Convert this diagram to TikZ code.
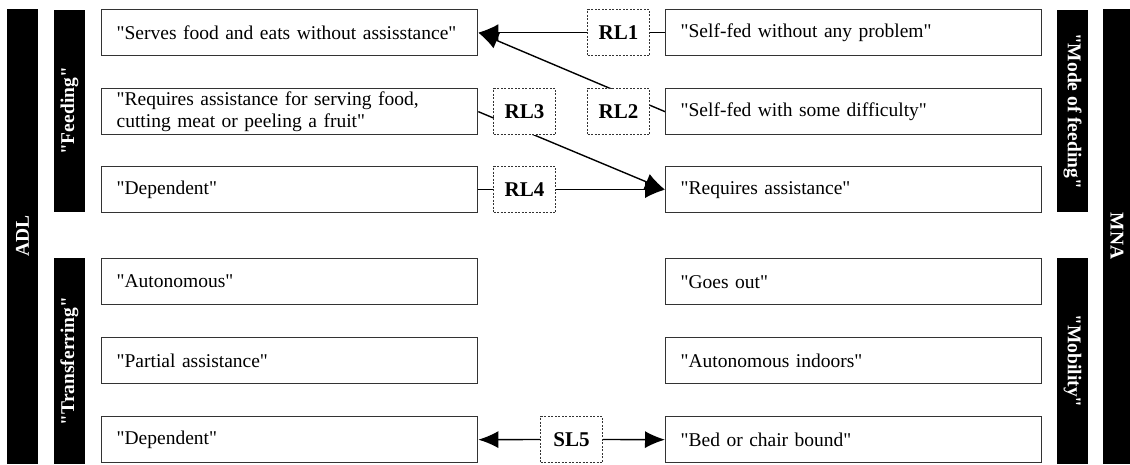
\documentclass[tikz,border=0pt]{standalone}
\usepackage{fontspec}
\setmainfont{Liberation Serif}[Ligatures=TeXOff]
\usetikzlibrary{arrows.meta}
\pgfdeclarelayer{bg}
\pgfsetlayers{bg,main}
\begin{document}
\begin{tikzpicture}[x=1pt,y=-1pt,
  txt/.style={font=\fontsize{19.5}{22}\selectfont},
  optbox/.style={txt, draw=black!80, line width=1.3pt, anchor=north west,
    minimum width=376pt, minimum height=46pt, text width=346pt,
    inner xsep=15pt, inner ysep=0pt, align=left},
  relbox/.style={draw=black!80, line width=1pt, dash pattern=on 2pt off 1.5pt,
    fill=white, anchor=north west, minimum width=62pt, minimum height=46pt,
    inner sep=0pt, font=\fontsize{21}{22}\selectfont\bfseries},
  bar/.style={fill=black, text=white, inner sep=0pt,
    font=\fontsize{19.5}{22}\selectfont\bfseries},
  arr/.style={line width=1.4pt, -{Latex[length=20pt,width=17pt]}}]
\useasboundingbox (0,0) rectangle (1130,464);

% side bars
\node[bar, minimum width=455pt, minimum height=31pt, rotate=90] (adl) at (22.5,236) {ADL};
\node[bar, minimum width=202pt, minimum height=31pt, rotate=90] (feed) at (69.5,111) {"Feeding"};
\node[bar, minimum width=206pt, minimum height=31pt, rotate=90] (trans) at (69.5,361) {"Transferring"};
\node[bar, minimum width=202pt, minimum height=31pt, rotate=-90] (mode) at (1072.5,111) {"Mode of feeding"};
\node[bar, minimum width=206pt, minimum height=31pt, rotate=-90] (mob) at (1072.5,361) {"Mobility"};
\node[bar, minimum width=455pt, minimum height=29pt, rotate=-90] (mna) at (1117,236) {MNA};

% left options (ADL)
\node[optbox] (l1) at (101,9) {"Serves food and eats without assisstance"};
\node[optbox] (l2) at (101,88) {"Requires assistance for serving food,\\cutting meat or peeling a fruit"};
\node[optbox] (l3) at (101,166) {"Dependent"};
\node[optbox] (l4) at (101,258) {"Autonomous"};
\node[optbox] (l5) at (101,337) {"Partial assistance"};
\node[optbox] (l6) at (101,416) {"Dependent"};

% right options (MNA)
\node[optbox] (r1) at (665,9) {"Self-fed without any problem"};
\node[optbox] (r2) at (665,88) {"Self-fed with some difficulty"};
\node[optbox] (r3) at (665,166) {"Requires assistance"};
\node[optbox] (r4) at (665,258) {"Goes out"};
\node[optbox] (r5) at (665,337) {"Autonomous indoors"};
\node[optbox] (r6) at (665,416) {"Bed or chair bound"};

% relation labels
\node[relbox] (rl1) at (587,9) {RL1};
\node[relbox] (rl2) at (587,88) {RL2};
\node[relbox] (rl3) at (493,88) {RL3};
\node[relbox] (rl4) at (493,166) {RL4};
\node[relbox] (sl5) at (540,416) {SL5};

\begin{pgfonlayer}{bg}
  \draw[arr] (r1.west) -- (l1.east);
  \draw[arr] (r2.west) -- (l1.east);
  \draw[arr] (l2.east) -- (r3.west);
  \draw[arr] (l3.east) -- (r3.west);
  \draw[arr] (sl5.west) -- (l6.east);
  \draw[arr] (sl5.east) -- (r6.west);
\end{pgfonlayer}
\end{tikzpicture}
\end{document}
